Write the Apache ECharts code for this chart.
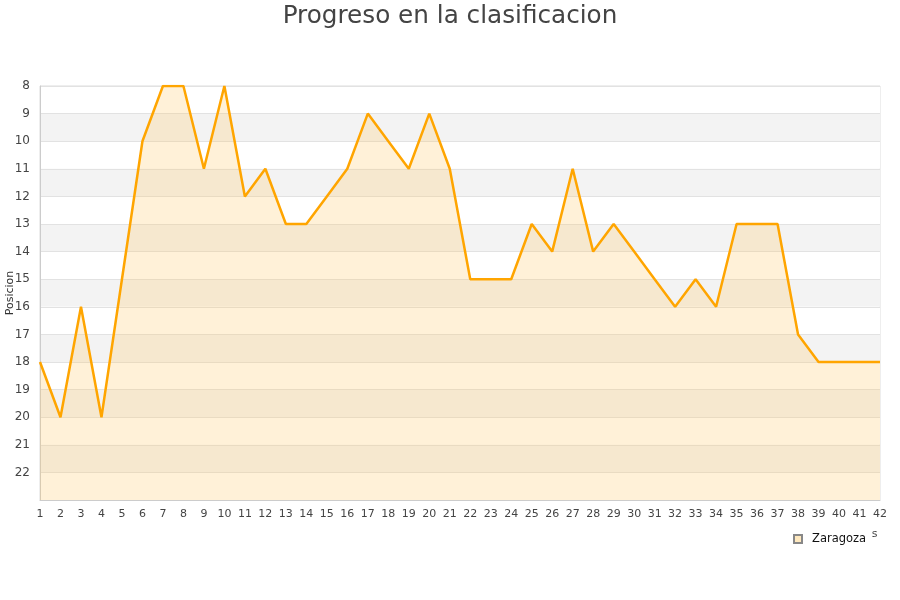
<!DOCTYPE html>
<html>
<head>
<meta charset="utf-8">
<script src="https://cdn.jsdelivr.net/npm/echarts@6/dist/echarts.min.js"></script>
<style>
  html, body { margin: 0; padding: 0; background: #fff; }
  #main { width: 900px; height: 600px; }
</style>
</head>
<body>
<div id="main"></div>
<script>
// jornadas 1..42
const jornadas = [];
for (let i = 1; i <= 42; i++) jornadas.push(String(i));

// posicion de Zaragoza en cada jornada
const posiciones = [18, 20, 16, 20, 15, 10, 8, 8, 11, 8,
  12, 11, 13, 13, 12, 11, 9, 10, 11, 9,
  11, 15, 15, 15, 13, 14, 11, 14, 13, 14,
  15, 16, 15, 16, 13, 13, 13, 17, 18, 18,
  18, 18];

const equipo = 'Zaragoza';

const chart = echarts.init(document.getElementById('main'));
chart.setOption({
  animation: false,
  textStyle: { fontFamily: 'DejaVu Sans' },
  title: {
    text: 'Progreso en la clasificacion',
    left: 'center',
    top: -1,
    textStyle: { fontSize: 24.7, fontWeight: 'normal', color: '#444', fontFamily: 'DejaVu Sans' }
  },
  legend: {
    data: [{ name: equipo, icon: 'rect' }],
    left: 790,
    top: 526,
    itemWidth: 8,
    itemHeight: 8,
    backgroundColor: '#fff',
    padding: [7, 6, 3, 3],
    textStyle: { fontSize: 11.5, color: '#111', padding: [0, 0, 0, 5] },
    z: 10
  },
  grid: { left: 40, right: 20, top: 86, bottom: 100, outerBoundsMode: 'none' },
  xAxis: {
    type: 'category',
    data: jornadas,
    boundaryGap: false,
    name: 'Jornadas',
    nameLocation: 'end',
    nameGap: -50,
    nameMoveOverlap: false,
    nameTextStyle: { fontSize: 11, color: '#444', verticalAlign: 'top', padding: [29, 0, 0, 0] },
    axisLine: { lineStyle: { color: '#ccc' } },
    axisTick: { show: false },
    axisLabel: { color: '#444', fontSize: 11, interval: 0, margin: 9 },
    splitLine: { show: false }
  },
  yAxis: {
    type: 'value',
    inverse: true,
    min: 8,
    max: 23,
    interval: 1,
    name: 'Posicion',
    nameLocation: 'middle',
    nameGap: 24,
    nameMoveOverlap: false,
    nameTextStyle: { fontSize: 11, color: '#333' },
    axisLine: { show: true, lineStyle: { color: '#ccc' } },
    axisTick: { show: false },
    axisLabel: { color: '#444', fontSize: 12, showMaxLabel: false, margin: 10 },
    splitLine: { show: true, lineStyle: { color: '#e2e2e2' } },
    splitArea: { show: true, areaStyle: { color: ['#fff', '#f3f3f3'] } }
  },
  series: [{
    name: equipo,
    type: 'line',
    data: posiciones,
    symbol: 'none',
    lineStyle: { color: '#ffa500', width: 2.5 },
    itemStyle: { color: '#ffe9bf', borderColor: '#888', borderWidth: 1 },
    areaStyle: { color: 'rgba(255,200,100,0.36)', origin: 'end' }
  }],
  graphic: [{
    type: 'rect',
    shape: { x: 40, y: 86, width: 840, height: 414 },
    style: { fill: 'none', stroke: '#ddd', lineWidth: 1 },
    silent: true,
    z: -1
  }]
});
</script>
</body>
</html>
